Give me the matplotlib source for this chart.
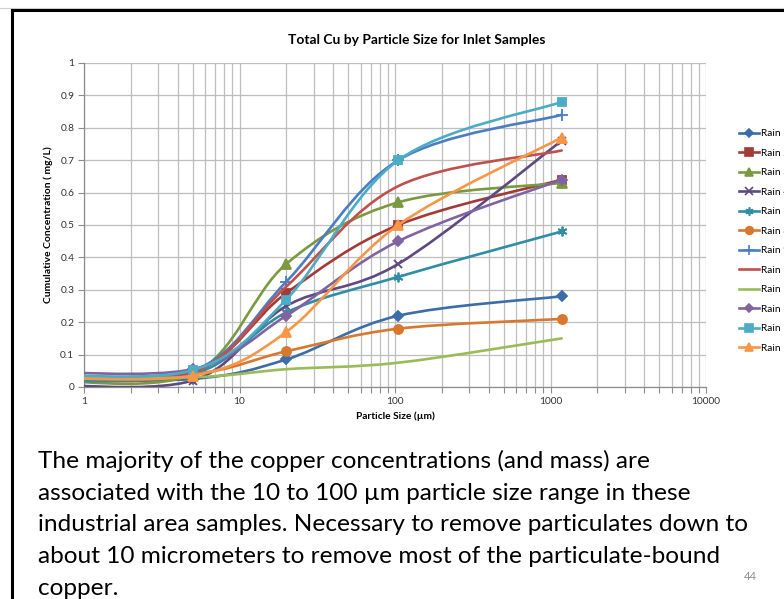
#!/usr/bin/env python3
import numpy as np
import matplotlib
matplotlib.use('Agg')
import matplotlib.pyplot as plt
import matplotlib.ticker as plticker
from matplotlib.path import Path
from matplotlib.patches import PathPatch
from matplotlib.lines import Line2D

plt.rcParams['font.family'] = ['Lato', 'DejaVu Sans']

# particle size cut points (um), first one is the filtrate below the axis range
sizes = [0.45, 5, 20, 105, 1180]

names = ['Rain 1', 'Rain 2', 'Rain 3', 'Rain 4', 'Rain 5', 'Rain 8',
         'Rain 9', 'Rain 10', 'Rain 11', 'Rain 12', 'Rain 13', 'Rain 14']

rain_1 = [0.02, 0.025, 0.085, 0.22, 0.28]
rain_2 = [0.03, 0.045, 0.29, 0.50, 0.64]
rain_3 = [0.025, 0.04, 0.38, 0.57, 0.63]
rain_4 = [0.01, 0.02, 0.25, 0.38, 0.76]
rain_5 = [0.02, 0.04, 0.23, 0.34, 0.48]
rain_8 = [0.03, 0.04, 0.11, 0.18, 0.21]
rain_9 = [0.04, 0.05, 0.325, 0.70, 0.84]
rain_10 = [0.035, 0.045, 0.31, 0.62, 0.73]
rain_11 = [0.03, 0.03, 0.055, 0.075, 0.15]
rain_12 = [0.048, 0.055, 0.22, 0.45, 0.64]
rain_13 = [0.04, 0.052, 0.27, 0.70, 0.88]
rain_14 = [0.03, 0.035, 0.17, 0.50, 0.77]

series = [rain_1, rain_2, rain_3, rain_4, rain_5, rain_8,
          rain_9, rain_10, rain_11, rain_12, rain_13, rain_14]

colors = ['#3C6DA8', '#A23B38', '#7B9A3F', '#5F4A80', '#2F8DA6', '#D8772E',
          '#4A7DC4', '#C0504D', '#9BBB59', '#8064A2', '#4BACC6', '#F79646']
markers = ['D', 's', '^', 'x', (6, 2, 0), 'o', '+', None, None, 'D', 's', '^']
msizes = [5, 6, 6.5, 6, 7, 6.5, 8, 0, 0, 5, 6, 6.5]


def smooth_path(x, y):
    # Excel-style smoothed line: cubic Bezier through every point,
    # tangents built in log-x space so they look right on the log axis
    pts = np.column_stack([np.log10(x), y])
    n = len(pts)
    verts = [pts[0]]
    codes = [Path.MOVETO]
    for i in range(n - 1):
        p0 = pts[max(i - 1, 0)]
        p1 = pts[i]
        p2 = pts[i + 1]
        p3 = pts[min(i + 2, n - 1)]
        verts += [p1 + (p2 - p0) / 6, p2 - (p3 - p1) / 6, p2]
        codes += [Path.CURVE4] * 3
    verts = np.array(verts)
    verts[:, 0] = 10 ** verts[:, 0]
    return Path(verts, codes)


W, H = 784, 599
fig = plt.figure(figsize=(W / 100, H / 100), dpi=100)
ax = fig.add_axes([84 / W, 1 - 387 / H, (706 - 84) / W, (387 - 63) / H])

handles = []
for k, (vals, c, m, ms) in enumerate(zip(series, colors, markers, msizes)):
    z = 3 + k * 0.01
    ax.add_patch(PathPatch(smooth_path(sizes, vals), fill=False, edgecolor=c,
                           lw=1.9, capstyle='round', joinstyle='round', zorder=z))
    if m is not None:
        ax.plot(sizes, vals, ls='none', marker=m, ms=ms, color=c, mec=c,
                mew=1.3, zorder=z)
    handles.append(Line2D([], [], color=c, lw=1.9, marker=m, ms=ms * 0.85,
                          mec=c, mew=1.2))

ax.set_xscale('log')
ax.set_xlim(1, 10000)
ax.set_ylim(0, 1)
ax.yaxis.set_major_locator(plticker.MultipleLocator(0.1))
ax.yaxis.set_major_formatter(plticker.FuncFormatter(lambda v, p: f'{v:g}'))
ax.xaxis.set_major_formatter(plticker.FuncFormatter(lambda v, p: f'{v:g}'))
ax.xaxis.set_minor_locator(plticker.LogLocator(base=10, subs=np.arange(2, 10)))
ax.xaxis.set_minor_formatter(plticker.NullFormatter())

ax.grid(True, which='major', axis='both', color='#BEBEBE', lw=0.9, zorder=0)
ax.grid(True, which='minor', axis='x', color='#BEBEBE', lw=0.9, zorder=0)
ax.set_axisbelow(True)
for s in ['top', 'right']:
    ax.spines[s].set_visible(False)
for s in ['left', 'bottom']:
    ax.spines[s].set_color('#8C8C8C')
    ax.spines[s].set_linewidth(0.9)
ax.tick_params(which='both', color='#8C8C8C', length=4, width=0.8,
               labelsize=7.3, labelcolor='#333333', pad=3)

ax.set_xlabel('Particle Size (µm)', fontsize=7.3, fontweight='bold', labelpad=4)
ax.set_ylabel('Cumulative Concentration ( mg/L)', fontsize=7.5,
              fontweight='bold', labelpad=5)
fig.text(417 / W, 1 - 40 / H, 'Total Cu by Particle Size for Inlet Samples',
         ha='center', va='center', fontsize=10, fontweight='bold')

fig.legend(handles, names, loc='upper left', bbox_to_anchor=(739 / W, 1 - 129 / H),
           frameon=False, fontsize=7.3, handlelength=2.0, handletextpad=0.15,
           labelspacing=1.03, borderaxespad=0, borderpad=0)

# slide frame
fig.add_artist(Line2D([0, 1], [1 - 8 / H] * 2, color='#D0D0D0', lw=0.8))
fig.add_artist(Line2D([12 / W, 1], [1 - 10 / H] * 2, color='black', lw=2.2))
fig.add_artist(Line2D([12 / W] * 2, [0, 1 - 10 / H], color='black', lw=2.2))

body = ['The majority of the copper concentrations (and mass) are',
        'associated with the 10 to 100 µm particle size range in these',
        'industrial area samples. Necessary to remove particulates down to',
        'about 10 micrometers to remove most of the particulate-bound',
        'copper.']
for i, line in enumerate(body):
    fig.text(38 / W, 1 - (468 + i * 31.7) / H, line, ha='left', va='baseline',
             fontsize=17.6, color='black')

fig.text(750 / W, 1 - 577 / H, '44', ha='center', va='center', fontsize=8,
         color='#8C8C8C')

fig.savefig('out.png', dpi=100)
